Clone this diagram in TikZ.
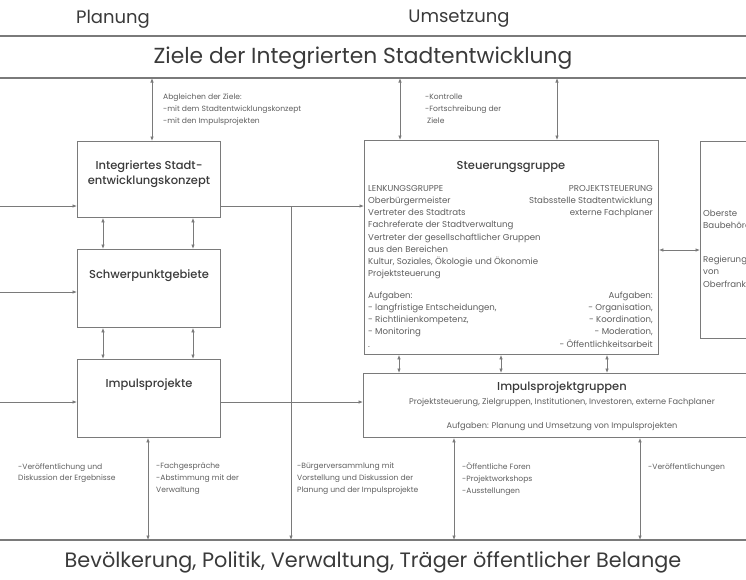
\documentclass[tikz,border=0pt]{standalone}
\usepackage{fontspec}
\setmainfont{Poppins}
\newfontfamily\medfont{Poppins Medium}
\usetikzlibrary{arrows.meta}
\definecolor{ln}{HTML}{7A7A7A}
\definecolor{tx}{HTML}{5E5E5E}
\definecolor{hd}{HTML}{3A3A3A}
\begin{document}
\begin{tikzpicture}[x=1pt,y=-1pt,
  box/.style={draw=ln, line width=0.9pt, anchor=north west, inner sep=0pt},
  conn/.style={draw=ln, line width=0.8pt},
  arr/.style={conn,-{Latex[length=4.5pt,width=3.6pt]}},
  darr/.style={conn,{Latex[length=4.5pt,width=3.6pt]}-{Latex[length=4.5pt,width=3.6pt]}},
  band/.style={draw=ln, line width=1.4pt},
  head/.style={text=hd, font=\fontsize{18}{21}\selectfont, inner sep=0pt},
  bighead/.style={text=hd, font=\fontsize{20.8}{24}\selectfont, inner sep=0pt},
  zhead/.style={text=hd, font=\fontsize{21.8}{25}\selectfont, inner sep=0pt},
  btitle/.style={text=hd, font=\medfont\fontsize{11.5}{14.5}\selectfont, align=center, inner sep=0pt},
  small/.style={text=tx, font=\fontsize{7.6}{11.8}\selectfont, align=left, anchor=north west, inner sep=0pt},
  body/.style={text=tx, font=\fontsize{8.6}{12.2}\selectfont, inner sep=0pt},
  ibody/.style={text=tx, font=\fontsize{8.2}{12}\selectfont, inner sep=0pt},
]
\useasboundingbox (0,0) rectangle (746,579);
\clip (0,0) rectangle (746,579);

% headings
\node[head] (planung) at (113,19) {Planung};
\node[head] (umsetzung) at (459,19) {Umsetzung};
\node[zhead] (ziele) at (363,58) {Ziele der Integrierten Stadtentwicklung};
\node[bighead] (bev) at (373,562) {Bevölkerung, Politik, Verwaltung, Träger öffentlicher Belange};

% horizontal bands
\coordinate (t1) at (0,36);  \coordinate (t1e) at (746,36);
\coordinate (t2) at (0,78);  \coordinate (t2e) at (746,78);
\coordinate (b1) at (0,540); \coordinate (b1e) at (746,540);
\draw[band] (t1) -- (t1e);
\draw[band] (t2) -- (t2e);
\draw[band] (b1) -- (b1e);

% boxes
\node[box, minimum width=143pt, minimum height=76pt] (ise) at (77,141) {};
\node[box, minimum width=143pt, minimum height=78pt] (spg) at (77,249) {};
\node[box, minimum width=143pt, minimum height=78pt] (imp) at (77,359) {};
\node[box, minimum width=294pt, minimum height=214pt] (sg) at (364,140) {};
\node[box, minimum width=80pt, minimum height=197pt] (ob) at (700,141) {};
\node[box, minimum width=420pt, minimum height=64pt] (ipg) at (363,373) {};

% box titles
\node[btitle] (iset) at (149,174) {Integriertes Stadt-\\entwicklungskonzept};
\node[btitle] (spgt) at (149,276) {Schwerpunktgebiete};
\node[btitle] (impt) at (149,385) {Impulsprojekte};
\node[btitle] (sgt) at (511,167) {Steuerungsgruppe};
\node[btitle] (ipgt) at (562,388) {Impulsprojektgruppen};

% Steuerungsgruppe contents
\node[body, anchor=north west, align=left] (lk) at (368,185) {LENKUNGSGRUPPE\\Oberbürgermeister\\Vertreter des Stadtrats\\Fachreferate der Stadtverwaltung\\Vertreter der gesellschaftlicher Gruppen\\aus den Bereichen\\Kultur, Soziales, Ökologie und Ökonomie\\Projektsteuerung};
\node[body, anchor=north west, align=left] (lka) at (368,291.5) {Aufgaben:\\- langfristige Entscheidungen,\\- Richtlinienkompetenz,\\- Monitoring\\.};
\node[body, anchor=north east, align=right] (ps) at (653,185) {PROJEKTSTEUERUNG\\Stabsstelle Stadtentwicklung\\externe Fachplaner};
\node[body, anchor=north east, align=right] (psa) at (653,291.5) {Aufgaben:\\- Organisation,\\- Koordination,\\- Moderation,\\- Öffentlichkeitsarbeit};

% Impulsprojektgruppen contents
\node[ibody] (ipg1) at (562,402) {Projektsteuerung, Zielgruppen, Institutionen, Investoren, externe Fachplaner};
\node[ibody] (ipg2) at (562,426) {Aufgaben: Planung und Umsetzung von Impulsprojekten};

% right box contents
\node[body, anchor=north west, align=left] (obt) at (703,210) {Oberste\\Baubehörde};
\node[body, anchor=north west, align=left] (rgt) at (703,256) {Regierung\\von\\Oberfranken};

% annotations
\node[small] (ab) at (163,94) {Abgleichen der Ziele:\\-mit dem Stadtentwicklungskonzept\\-mit den Impulsprojekten};
\node[small] (ko) at (425,94) {-Kontrolle\\-Fortschreibung der\\\ Ziele};
\node[small] (ve) at (18,463) {-Veröffentlichung und\\Diskussion der Ergebnisse};
\node[small] (fa) at (156,463) {-Fachgespräche\\-Abstimmung mit der\\Verwaltung};
\node[small] (bu) at (297,463) {-Bürgerversammlung mit\\Vorstellung und Diskussion der\\Planung und der Impulsprojekte};
\node[small] (of) at (462,463) {-Öffentliche Foren\\-Projektworkshops\\-Ausstellungen};
\node[small] (vo) at (648,463) {-Veröffentlichungen};

% helper coordinates
\coordinate (xz) at (152,0);
\coordinate (xk1) at (400,0);
\coordinate (xk2) at (557,0);
\coordinate (xa) at (103,0);
\coordinate (xb) at (193,0);
\coordinate (xi) at (148,0);
\coordinate (xs1) at (399,0);
\coordinate (xs2) at (501,0);
\coordinate (xs3) at (607,0);
\coordinate (xg1) at (454,0);
\coordinate (xg2) at (640,0);
\coordinate (y1) at (0,206);
\coordinate (y2) at (0,292);
\coordinate (y3) at (0,402);
\coordinate (yo) at (0,250);
\coordinate (j1) at (291,206);

% connectors top
\draw[darr] (t2 -| xz) -- (ise.north -| xz);
\draw[darr] (t2 -| xk1) -- (sg.north -| xk1);
\draw[darr] (t2 -| xk2) -- (sg.north -| xk2);

% inputs from left
\draw[arr] (y1) -- (y1 -| ise.west);
\draw[arr] (y2) -- (y2 -| spg.west);
\draw[arr] (y3) -- (y3 -| imp.west);

% between left boxes
\draw[darr] (ise.south -| xa) -- (spg.north -| xa);
\draw[darr] (ise.south -| xb) -- (spg.north -| xb);
\draw[darr] (spg.south -| xa) -- (imp.north -| xa);
\draw[darr] (spg.south -| xb) -- (imp.north -| xb);

% ISE to Steuerungsgruppe and down
\draw[conn] (y1 -| ise.east) -- (j1);
\draw[arr] (j1) -- (j1 -| sg.west);
\draw[arr] (j1) -- (b1 -| j1);

% Impulsprojekte to Impulsprojektgruppen
\draw[arr] (y3 -| imp.east) -- (y3 -| ipg.west);

% down to population
\draw[darr] (imp.south -| xi) -- (b1 -| xi);
\draw[darr] (ipg.south -| xg1) -- (b1 -| xg1);
\draw[darr] (ipg.south -| xg2) -- (b1 -| xg2);

% Steuerungsgruppe links
\draw[darr] (yo -| sg.east) -- (yo -| ob.west);
\draw[darr] (sg.south -| xs1) -- (ipg.north -| xs1);
\draw[darr] (sg.south -| xs2) -- (ipg.north -| xs2);
\draw[darr] (sg.south -| xs3) -- (ipg.north -| xs3);
\end{tikzpicture}
\end{document}
